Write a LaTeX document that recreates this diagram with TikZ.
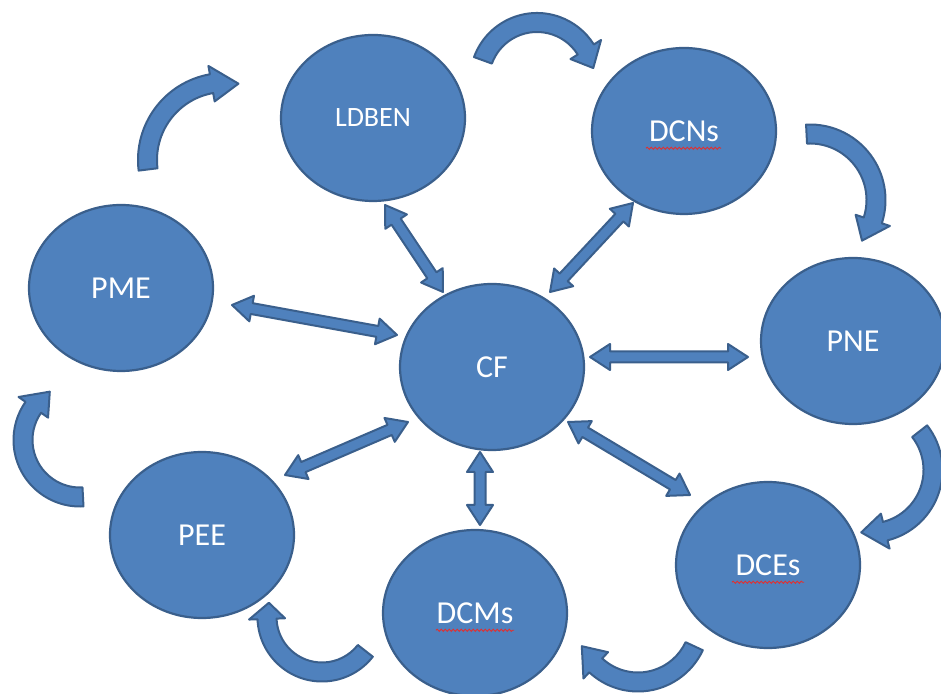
\documentclass[tikz,border=0pt]{standalone}
\usepackage{fontspec}
\setmainfont{Carlito}
\usetikzlibrary{shapes.geometric,decorations.pathmorphing,calc}
\definecolor{ofill}{HTML}{4F81BD}
\definecolor{oline}{HTML}{3A5F8C}
\definecolor{squigred}{HTML}{E03030}
\tikzset{
  bubble/.style={ellipse, draw=oline, line width=2.2pt, fill=ofill, minimum width=184pt, minimum height=166pt, inner sep=0pt, text=white, font=\fontsize{32}{32}\selectfont},
  blockarrow/.style={draw=oline, fill=ofill, line width=2pt, line join=round},
  squig/.style={draw=squigred, line width=0.9pt, decorate, decoration={snake, amplitude=1.1pt, segment length=4pt}}
}
\newcommand\dblarrow[2]{%
  \pgfpointdiff{\pgfpointanchor{#1}{center}}{\pgfpointanchor{#2}{center}}%
  \pgfgetlastxy{\arrdx}{\arrdy}%
  \pgfmathsetmacro\arrang{atan2(\arrdy,\arrdx)}%
  \pgfmathsetmacro\arrlen{veclen(\arrdx,\arrdy)}%
  \begin{scope}[shift={(#1)},rotate=\arrang]
    \draw[blockarrow] (0,0) -- (20,13) -- (20,5.5) -- ({\arrlen-20},5.5) -- ({\arrlen-20},13) -- (\arrlen,0) -- ({\arrlen-20},-13) -- ({\arrlen-20},-5.5) -- (20,-5.5) -- (20,-13) -- cycle;
  \end{scope}}
\newcommand\curvedarrow[6]{% cx, cy, r, start, base, tip
  \begin{scope}[shift={(#1,#2)}]
    \draw[blockarrow] (#4:{#3+9.5}) arc[start angle=#4, end angle=#5, radius={#3+9.5}] -- (#5:{#3+18}) -- (#6:#3) -- (#5:{#3-18}) -- (#5:{#3-9.5}) arc[start angle=#5, end angle=#4, radius={#3-9.5}] -- cycle;
  \end{scope}}
\begin{document}
\begin{tikzpicture}[x=1pt,y=1pt]
\useasboundingbox[fill=white] (0,0) rectangle (941,693);
% nodes
\node[bubble, font=\fontsize{28}{28}\selectfont] (LDBEN) at (373,575) {LDBEN};
\node[bubble] (DCNs) at (684,562) {DCNs};
\node[bubble] (PME) at (121,405) {PME};
\node[bubble] (CF) at (492,326) {CF};
\node[bubble] (PNE) at (853,352) {PNE};
\node[bubble] (PEE) at (202,158) {PEE};
\node[bubble] (DCMs) at (475,80) {DCMs};
\node[bubble] (DCEs) at (768,128) {DCEs};
% spell-check underlines
\draw[squig] ([xshift=-38pt,yshift=-7pt]DCNs.base) -- ([xshift=37pt,yshift=-7pt]DCNs.base);
\draw[squig] ([xshift=-36pt,yshift=-7pt]DCEs.base) -- ([xshift=36pt,yshift=-7pt]DCEs.base);
\draw[squig] ([xshift=-39pt,yshift=-7pt]DCMs.base) -- ([xshift=39pt,yshift=-7pt]DCMs.base);
% straight double arrow end points
\coordinate (ldbenA) at (385,488);
\coordinate (cfA) at (443,401);
\coordinate (dcnsB) at (633,490);
\coordinate (cfB) at (550,401);
\coordinate (pmeC) at (232,388);
\coordinate (cfC) at (397,358);
\coordinate (cfD) at (590,336);
\coordinate (pneD) at (748,336);
\coordinate (cfE) at (408,271);
\coordinate (peeE) at (285,218);
\coordinate (cfF) at (480,241);
\coordinate (dcmsF) at (480,168);
\coordinate (cfG) at (568,271);
\coordinate (dcesG) at (690,198);
\dblarrow{ldbenA}{cfA}
\dblarrow{dcnsB}{cfB}
\dblarrow{pmeC}{cfC}
\dblarrow{cfD}{pneD}
\dblarrow{cfE}{peeE}
\dblarrow{cfF}{dcmsF}
\dblarrow{cfG}{dcesG}
% curved arrows around the ring (clockwise)
\curvedarrow{537}{613}{57.5}{160}{32}{12}
\curvedarrow{810}{493}{66}{93}{-18}{-38}
\curvedarrow{870}{223}{63}{38}{-76}{-98}
\curvedarrow{638}{73}{62}{-25}{-133}{-155}
\curvedarrow{322}{76}{55}{-38}{-178}{-195}
\curvedarrow{80}{253}{57}{-87}{-215}{-238}
\curvedarrow{225}{533}{77.5}{187}{100}{80}
\end{tikzpicture}
\end{document}
